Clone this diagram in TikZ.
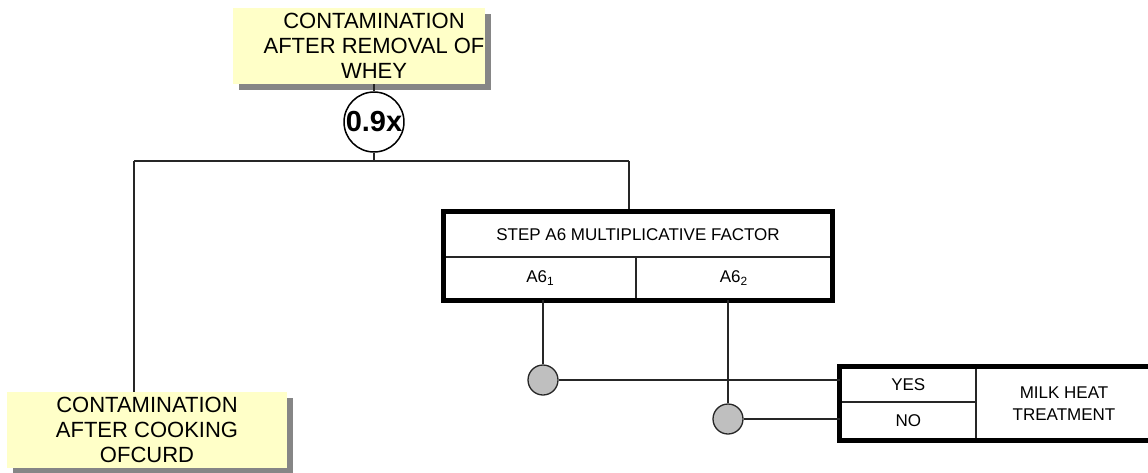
\documentclass[tikz,border=0pt]{standalone}
\usepackage{fontspec}
\setmainfont{Liberation Sans}
\usepackage{xcolor}
\usetikzlibrary{positioning, fit, shadows}

\definecolor{paleyellow}{RGB}{255,255,200}

\begin{document}
\begin{tikzpicture}[
			x=1pt, y=-1pt,
			yellowblock/.style = {rectangle, fill=paleyellow, inner sep=0pt,
					minimum width=280pt, minimum height=76pt, align=center,
					font=\fontsize{22}{25}\selectfont,
					drop shadow={shadow xshift=6pt, shadow yshift=-6pt, fill=gray!95, opacity=1}},
			factorblock/.style = {circle, draw, line width=1.5pt, fill=white, inner sep=0pt,
					minimum size=56pt, font=\bfseries\fontsize{29}{30}\selectfont},
			cellblock/.style = {rectangle, draw=black!85, line width=1.5pt, inner sep=0pt,
					align=center, font=\fontsize{17}{22}\selectfont},
			frameblock/.style = {rectangle, draw=black, line width=5pt, inner sep=0pt},
			junction/.style = {circle, draw=black!85, line width=1.3pt, fill=gray!50,
					inner sep=0pt, minimum size=30pt},
			line/.style = {draw=black!85, line width=1.5pt},
		]
		\useasboundingbox (0,0) rectangle (1148,472);
		\clip (0,0) rectangle (1148,472);

		% Contamination blocks
		\node [yellowblock, minimum width=252pt] (whey) at (359,46) {};
		\node [font=\fontsize{22}{25}\selectfont, align=center, inner sep=0pt] (wheytext) at (374,46) {CONTAMINATION\\AFTER REMOVAL OF\\WHEY};
		\node [yellowblock] (curd) at (147,430) {CONTAMINATION\\AFTER COOKING\\OFCURD};

		% Factor
		\node [factorblock] (factor) at (374,122) {0.9x};
		\coordinate (split) at (374,161);
		\coordinate (leftturn) at (134,161);
		\coordinate (rightturn) at (629,161);

		% Step A6 table
		\node [cellblock, minimum width=387pt, minimum height=44.5pt] (stephead) at (638,234.75) {STEP A6 MULTIPLICATIVE FACTOR};
		\node [cellblock, minimum width=191.5pt, minimum height=42.5pt] (asixone) at (540.25,278.25) {A6\textsubscript{1}};
		\node [cellblock, minimum width=195.5pt, minimum height=42.5pt] (asixtwo) at (733.75,278.25) {A6\textsubscript{2}};
		\node [frameblock, fit=(stephead)(asixone)(asixtwo)] (stepbox) {};

		% Milk heat treatment table
		\node [cellblock, minimum width=135.5pt, minimum height=34.5pt] (yes) at (908.25,384.75) {YES};
		\node [cellblock, minimum width=135.5pt, minimum height=37.5pt] (no) at (908.25,420.75) {NO};
		\node [cellblock, minimum width=176pt, minimum height=72pt] (milk) at (1064,403.5) {MILK HEAT\\TREATMENT};
		\node [frameblock, fit=(yes)(no)(milk)] (milkbox) {};

		% Junctions
		\node [junction] (yesdot) at (543,380) {};
		\node [junction] (nodot) at (728,419) {};

		% Draw lines
		\path [line] (whey.south -| factor) -- (factor.north);
		\path [line] (factor.south) -- (split);
		\path [line] (leftturn) -- (rightturn);
		\path [line] (leftturn) -- (curd.north -| leftturn);
		\path [line] (rightturn) -- (stepbox.north -| rightturn);
		\path [line] (asixone.south -| yesdot) -- (yesdot);
		\path [line] (asixtwo.south -| nodot) -- (nodot);
		\path [line] (yesdot) -- (yesdot -| yes.west);
		\path [line] (nodot) -- (nodot -| no.west);

	\end{tikzpicture}
\end{document}
